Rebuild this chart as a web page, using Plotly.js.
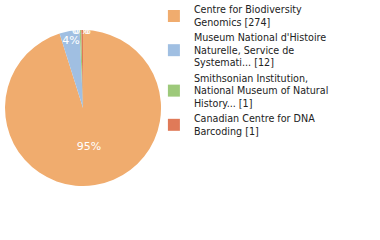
<!DOCTYPE html>
<html><head><meta charset="utf-8">
<script src="https://cdn.plot.ly/plotly-3.0.1.min.js"></script>
<style>html,body{margin:0;padding:0;background:#fff}#c{width:380px;height:240px}</style>
</head><body><div id="c"></div>
<script>
var labels = ["Centre for Biodiversity<br>Genomics [274]", "Museum National d'Histoire<br>Naturelle, Service de<br>Systemati... [12]", "Smithsonian Institution,<br>National Museum of Natural<br>History... [1]", "Canadian Centre for DNA<br>Barcoding [1]"];
var values = [274, 12, 1, 1];
var colors = ["#F0AC6E", "#A0BFE2", "#9DC97A", "#E07A58"];
var data = [{
  type: "pie", labels: labels, values: values, sort: false, direction: "clockwise", rotation: 0,
  marker: {colors: colors, line: {width: 0}},
  textinfo: "percent", textposition: "inside", insidetextorientation: "horizontal",
  texttemplate: "%{percent:.0%}",
  textfont: {color: "#fff", size: 11, family: "DejaVu Sans"},
  domain: {x: [0.013, 0.424], y: [0.225, 0.875]},
  hoverinfo: "none"
}];
var layout = {
  width: 380, height: 240, margin: {l: 0, r: 0, t: 0, b: 0, autoexpand: false},
  paper_bgcolor: "#fff", showlegend: true,
  uniformtext: {minsize: 11, mode: "show"},
  legend: {x: 0.405, y: 1.0125, xanchor: "left", yanchor: "top", bgcolor: "rgba(0,0,0,0)", maxheight: 235, font: {family: "DejaVu Sans", size: 9.6, color: "#222"}, itemwidth: 30},
  font: {family: "DejaVu Sans"}
};
Plotly.newPlot("c", data, layout, {staticPlot: true});
</script></body></html>
